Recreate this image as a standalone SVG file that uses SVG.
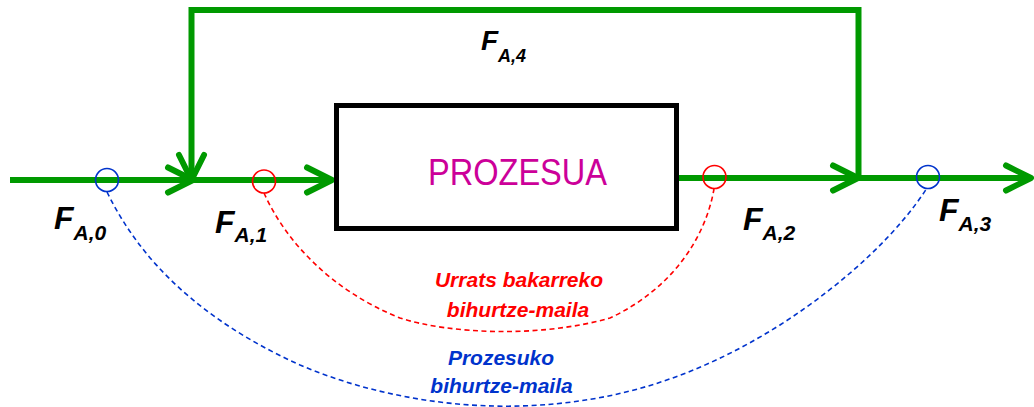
<svg xmlns="http://www.w3.org/2000/svg" width="1034" height="407" viewBox="0 0 1034 407">
<style>
.flow{fill:none;stroke:#009900;stroke-width:6;stroke-linecap:round;stroke-linejoin:round}
.flowline{fill:none;stroke:#009900;stroke-width:6;stroke-linecap:butt;stroke-linejoin:miter}
.fl{font-family:"Liberation Sans",Arial,sans-serif;font-weight:bold;font-style:italic;fill:#000}
.ring{fill:none;stroke-width:1.6}
.red{stroke:#FF0000}
.blue{stroke:#0033CC}
.dash{fill:none;stroke-width:1.6;stroke-dasharray:5 3.5}
.note{font-family:"Liberation Sans",Arial,sans-serif;font-weight:bold;font-style:italic;font-size:21px;text-anchor:middle}
</style>
<defs>
<marker id="chev" markerUnits="userSpaceOnUse" markerWidth="40" markerHeight="40" refX="0" refY="0" orient="auto" style="overflow:visible">
<polyline class="flow" points="-25,-12.5 0,0 -25,12.5"/>
</marker>
</defs>
<rect width="1034" height="407" fill="#ffffff"/>
<g id="connectors">
<path class="flowline" d="M10,180 H193" marker-end="url(#chev)"/>
<path class="flowline" d="M193,180 H332" marker-end="url(#chev)"/>
<path class="flowline" d="M676,178 H858" marker-end="url(#chev)"/>
<path class="flowline" d="M858,178 H1031" marker-end="url(#chev)"/>
<path class="flowline" d="M858.5,178 V10 H191.5 V180" marker-end="url(#chev)"/>
<path class="dash red" d="M264,193 C285,240 330,290 400,318 C450,334 540,338 610,318 C670,290 705,240 714,189"/>
<path class="dash blue" d="M107,192 C140,260 200,320 300,365 C370,395 450,408 520,406 C620,403 700,375 780,325 C850,280 900,230 927,188"/>
</g>
<g id="prozesua">
<rect x="336.5" y="105.5" width="340" height="123" fill="#ffffff" stroke="#000" stroke-width="5"/>
<text x="428" y="185" font-family="'Liberation Sans',Arial,sans-serif" font-size="37" fill="#CC0099" textLength="179" lengthAdjust="spacingAndGlyphs">PROZESUA</text>
</g>
<g id="point-fa0">
<circle class="ring blue" cx="107" cy="180" r="11.5"/>
<text class="fl" x="54" y="229" font-size="32">F<tspan dy="11" font-size="21">A,0</tspan></text>
</g>
<g id="point-fa1">
<circle class="ring red" cx="264" cy="181.5" r="11.5"/>
<text class="fl" x="215" y="233" font-size="32">F<tspan dy="9" font-size="21">A,1</tspan></text>
</g>
<g id="point-fa2">
<circle class="ring red" cx="714.5" cy="177" r="11.5"/>
<text class="fl" x="743" y="230" font-size="32">F<tspan dy="10" font-size="21">A,2</tspan></text>
</g>
<g id="point-fa3">
<circle class="ring blue" cx="928" cy="177" r="11.5"/>
<text class="fl" x="939" y="221" font-size="32">F<tspan dy="10" font-size="21">A,3</tspan></text>
</g>
<g id="label-fa4">
<text class="fl" x="481" y="50" font-size="28">F<tspan dy="12" font-size="18">A,4</tspan></text>
</g>
<g id="label-single">
<text class="note" x="519" y="287" fill="#FF0000">Urrats bakarreko</text>
<text class="note" x="518" y="317" fill="#FF0000">bihurtze-maila</text>
</g>
<g id="label-process">
<text class="note" x="501" y="365" fill="#0033CC">Prozesuko</text>
<text class="note" x="501.5" y="393" fill="#0033CC">bihurtze-maila</text>
</g>
</svg>
